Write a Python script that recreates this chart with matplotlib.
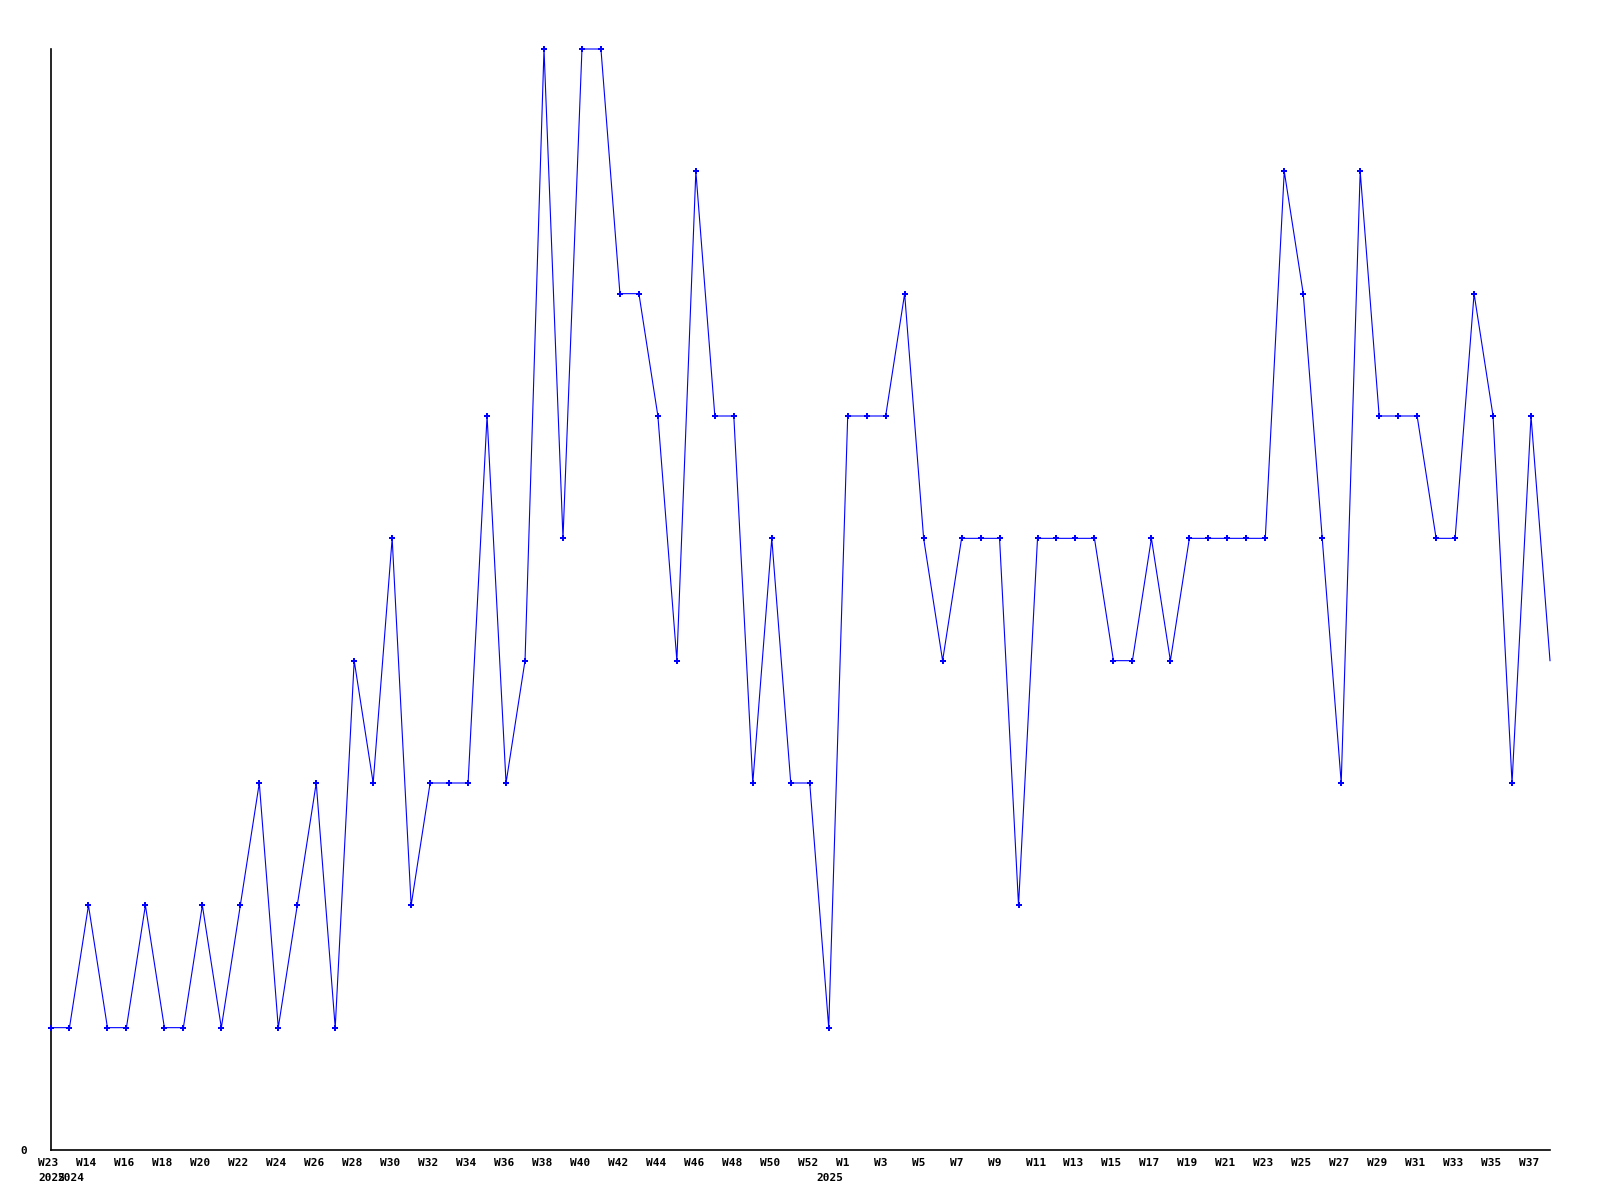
import matplotlib
matplotlib.use('Agg')
import matplotlib.pyplot as plt
import matplotlib.transforms as mtransforms

# ==================================================
#   Data (one value per week)
values = [1, 1, 2, 1, 1, 2, 1, 1, 2, 1,
          2, 3, 1, 2, 3, 1, 4, 3, 5, 2,
          3, 3, 3, 6, 3, 4, 9, 5, 9, 9,
          7, 7, 6, 4, 8, 6, 6, 3, 5, 3,
          3, 1, 6, 6, 6, 7, 5, 4, 5, 5,
          5, 2, 5, 5, 5, 5, 4, 4, 5, 4,
          5, 5, 5, 5, 5, 8, 7, 5, 3, 8,
          6, 6, 6, 5, 5, 7, 6, 3, 6, 4]

weeks = ['W23', 'W13'] + ['W%d' % w for w in range(14, 54)] + ['W%d' % w for w in range(1, 39)]

year_pos = [0, 1, 41]
year_txt = ['2025', '2024', '2025']

# ==================================================
fig = plt.figure(figsize=(16, 12), dpi=100)
ax = fig.add_axes([50.5 / 1600, 50 / 1200, (1550 - 50.5) / 1600, (1150 - 49) / 1200])

x = list(range(len(values)))
ax.plot(x, values, color='#0000ff', linewidth=0.8, marker='P', markersize=4,
        markeredgewidth=0, markevery=list(range(len(values) - 1)),
        clip_on=False, zorder=3)

ax.set_xlim(0, len(values) - 1)
ax.set_ylim(0, 9)

for s in ['top', 'right']:
    ax.spines[s].set_visible(False)
for s in ['left', 'bottom']:
    ax.spines[s].set_linewidth(1.2)
    ax.spines[s].set_color('black')

font = dict(family='DejaVu Sans Mono', weight='bold', size=8)

ax.set_yticks([0])
ax.set_yticklabels(['0'], **font)
ax.tick_params(axis='y', length=0, pad=17)

ax.set_xticks([])
shift = mtransforms.ScaledTranslation(-12 / 100, 0, fig.dpi_scale_trans)
trans = mtransforms.blended_transform_factory(ax.transData, ax.transAxes) + shift
for i in range(0, len(weeks), 2):
    ax.text(i, -0.0075, weeks[i], transform=trans, ha='left', va='top', **font)
for p, t in zip(year_pos, year_txt):
    ax.text(p, -0.0205, t, transform=trans, ha='left', va='top', **font)

plt.savefig('out.png', dpi=100)
